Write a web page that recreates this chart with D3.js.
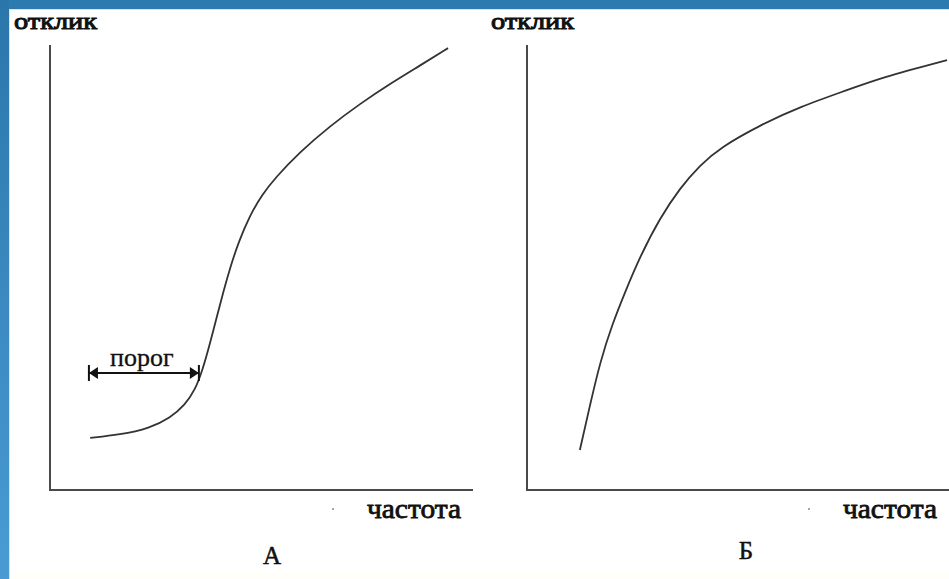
<!DOCTYPE html>
<html>
<head>
<meta charset="utf-8">
<script src="https://cdnjs.cloudflare.com/ajax/libs/d3/7.8.5/d3.min.js"></script>
<style>
  body { margin: 0; background: #fff; }
  svg text { font-family: "Liberation Serif", "DejaVu Serif", serif; fill: #111; }
</style>
</head>
<body>
<div class="chart"></div>
<script>
// panel A - threshold response curve (frequency 0..100, response 0..100)
var freqA = [9.5, 16.5, 23.6, 28.4, 31.9, 34.3, 36.0, 37.7, 39.4, 41.0, 42.7, 44.6, 47.3, 50.1, 53.2, 59.1, 66.2, 73.3, 80.4, 87.5, 94.1];
var respA = [11.7, 12.4, 13.9, 16.2, 19.1, 22.5, 26.8, 32.5, 38.8, 44.6, 50.3, 55.8, 61.8, 66.3, 70.1, 76.0, 81.8, 86.8, 91.3, 95.4, 99.3];

// panel B - saturating response curve
var freqB = [12.5, 14.9, 17.3, 20.1, 23.2, 26.7, 31.4, 36.2, 40.9, 45.6, 55.1, 64.5, 76.4, 83.5, 99.3];
var respB = [9.0, 19.1, 28.8, 37.1, 44.5, 52.4, 61.1, 67.9, 73.0, 76.9, 82.0, 86.1, 90.1, 92.6, 96.6];

// threshold arrow on panel A
var porogFrom = 9.2, porogTo = 35.2, porogLevel = 26.3;

var panelNames = ["А", "Б"];
var yLabel = "отклик";
var xLabel = "частота";

//svg container
var svgWidth = 949;
var svgHeight = 579;

var svg = d3.select(".chart").append("svg")
    .attr("width", svgWidth)
    .attr("height", svgHeight);

// blue frame at top and left
var defs = svg.append("defs");
var grad = defs.append("linearGradient")
    .attr("id", "leftBlue")
    .attr("x1", 0).attr("y1", 0).attr("x2", 0).attr("y2", 1);
grad.append("stop").attr("offset", "0%").attr("stop-color", "#2a76aa");
grad.append("stop").attr("offset", "100%").attr("stop-color", "#4a9bd4");

svg.append("rect").attr("x", 0).attr("y", 0).attr("width", svgWidth).attr("height", svgHeight).attr("fill", "#fff");
svg.append("rect").attr("x", 0).attr("y", 571).attr("width", svgWidth).attr("height", 8).attr("fill", "#fffef8");
svg.append("rect").attr("x", 0).attr("y", 0).attr("width", svgWidth).attr("height", 9).attr("fill", "#2c7ab0");
svg.append("rect").attr("x", 0).attr("y", 0).attr("width", 9).attr("height", svgHeight).attr("fill", "url(#leftBlue)");
svg.append("line").attr("x1", 9).attr("x2", svgWidth).attr("y1", 9.5).attr("y2", 9.5).attr("stroke", "#cfe6f5");
svg.append("line").attr("x1", 9.5).attr("x2", 9.5).attr("y1", 9).attr("y2", svgHeight).attr("stroke", "#cfe6f5");

// one panel per curve
var panels = [
    { left: 50, freq: freqA, resp: respA, name: panelNames[0], labelX: 14, xLabelX: 367, nameX: 272, nameY: 564 },
    { left: 527, freq: freqB, resp: respB, name: panelNames[1], labelX: 491, xLabelX: 843, nameX: 746, nameY: 559 }
];

var axisTop = 45, axisBottom = 490, axisWidth = 423;

panels.forEach(function(p, i) {
    var x = d3.scaleLinear().domain([0, 100]).range([p.left, p.left + axisWidth]);
    var y = d3.scaleLinear().domain([0, 100]).range([axisBottom, axisTop]);

    var g = svg.append("g");

    // axes, plain lines with no ticks
    g.append("path")
        .attr("d", "M" + x(0) + "," + y(100) + "V" + y(0) + "H" + (i === 1 ? svgWidth + 5 : x(100)))
        .attr("fill", "none")
        .attr("stroke", "#4a4a4a")
        .attr("stroke-width", 2);

    var pts = p.freq.map(function(f, k) { return [f, p.resp[k]]; });
    var line = d3.line()
        .x(function(d) { return x(d[0]); })
        .y(function(d) { return y(d[1]); })
        .curve(d3.curveBasis);

    g.append("path")
        .datum(pts)
        .attr("d", line)
        .attr("fill", "none")
        .attr("stroke", "#333")
        .attr("stroke-width", 1.8);

    // serif labels made heavier with a thin stroke
    g.append("text")
        .attr("x", p.labelX)
        .attr("y", 29)
        .attr("font-size", 24)
        .attr("stroke", "#111")
        .attr("stroke-width", 1)
        .attr("textLength", 83)
        .attr("lengthAdjust", "spacingAndGlyphs")
        .text(yLabel);

    g.append("text")
        .attr("x", p.xLabelX)
        .attr("y", 518)
        .attr("font-size", 27)
        .attr("stroke", "#111")
        .attr("stroke-width", 0.8)
        .attr("textLength", 94)
        .attr("lengthAdjust", "spacingAndGlyphs")
        .text(xLabel);

    g.append("circle")
        .attr("cx", p.xLabelX - 34)
        .attr("cy", 509)
        .attr("r", 1)
        .attr("fill", "#888");

    g.append("text")
        .attr("x", p.nameX)
        .attr("y", p.nameY)
        .attr("text-anchor", "middle")
        .attr("font-size", 25)
        .attr("stroke", "#111")
        .attr("stroke-width", 0.5)
        .text(p.name);

    if (i === 0) {
        var ay = y(porogLevel);
        var x0 = x(porogFrom), x1 = x(porogTo);
        g.append("line")
            .attr("x1", x0).attr("x2", x1).attr("y1", ay).attr("y2", ay)
            .attr("stroke", "#111").attr("stroke-width", 2);
        g.append("line").attr("x1", x0).attr("x2", x0).attr("y1", ay - 8).attr("y2", ay + 8)
            .attr("stroke", "#111").attr("stroke-width", 2);
        g.append("line").attr("x1", x1).attr("x2", x1).attr("y1", ay - 8).attr("y2", ay + 8)
            .attr("stroke", "#111").attr("stroke-width", 2);
        g.append("path")
            .attr("d", "M" + x0 + "," + ay + "l9,-6v12z")
            .attr("fill", "#111");
        g.append("path")
            .attr("d", "M" + x1 + "," + ay + "l-9,-6v12z")
            .attr("fill", "#111");
        g.append("text")
            .attr("x", (x0 + x1) / 2 - 2)
            .attr("y", 366)
            .attr("text-anchor", "middle")
            .attr("font-size", 26)
            .attr("stroke", "#111")
            .attr("stroke-width", 0.3)
            .text("порог");
    }
});
</script>
</body>
</html>
